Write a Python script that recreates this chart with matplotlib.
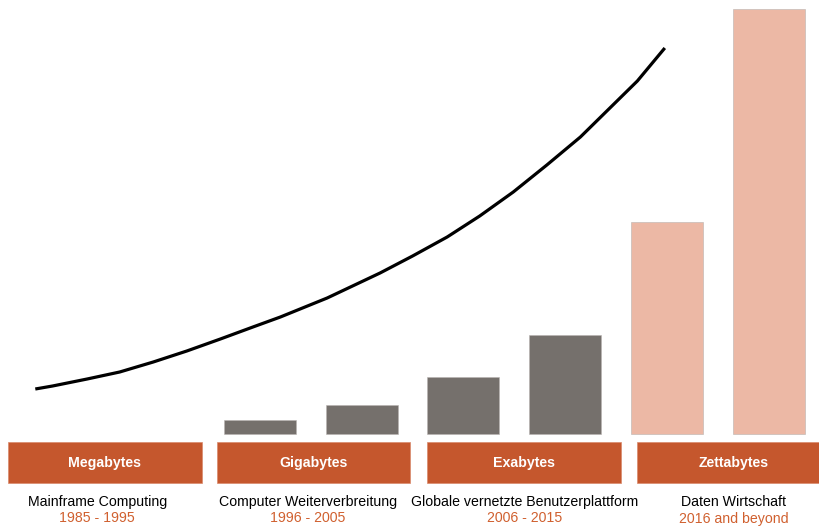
import numpy as np
import matplotlib.pyplot as plt
from matplotlib.patches import Rectangle

plt.rcParams['font.family'] = ['Liberation Sans', 'DejaVu Sans']

# Datenvolumen je Periode (relative Einheiten)
werte = [1.4, 2.9, 5.7, 9.9, 21.2, 42.5]
farben = ['#75706c', '#75706c', '#75706c', '#75706c', '#ecb8a5', '#ecb8a5']

# Trendkurve
kurve_x = [-2.21, -2.04, -1.70, -1.38, -1.05, -0.72, -0.39, -0.07, 0.20, 0.66,
           1.18, 1.50, 1.84, 2.16, 2.49, 2.82, 3.15, 3.37, 3.71, 3.98]
kurve_y = [4.5, 4.8, 5.5, 6.2, 7.2, 8.3, 9.5, 10.7, 11.7, 13.6,
           16.1, 17.8, 19.7, 21.8, 24.2, 26.9, 29.7, 31.9, 35.3, 38.6]

einheiten = ['Megabytes', 'Gigabytes', 'Exabytes', 'Zettabytes']
aeras = ['Mainframe Computing', 'Computer Weiterverbreitung',
         'Globale vernetzte Benutzerplattform', 'Daten Wirtschaft']
jahre = ['1985 - 1995', '1996 - 2005', '2006 - 2015', '2016 and beyond']

orange = '#c5572d'

fig = plt.figure(figsize=(8.2, 5.29), dpi=100)
ax = fig.add_axes([0, 0, 1, 1])
ax.set_xlim(-2.557, 5.506)
ax.set_ylim(-9.5, 43.4)
ax.axis('off')

x = np.arange(len(werte))
ax.bar(x, werte, width=0.708, color=farben, edgecolor='#b8b3b0', linewidth=0.4)

ax.plot(kurve_x, kurve_y, color='black', lw=2.3, solid_capstyle='butt',
        solid_joinstyle='round')

# Kaestchen unten mit Einheiten
box_mitte = [-1.525, 0.525, 2.595, 4.66]
text_mitte = [-1.60, 0.47, 2.60, 4.66]
for i in range(4):
    ax.add_patch(Rectangle((box_mitte[i] - 0.95, -4.9), 1.9, 4.1,
                           facecolor=orange, edgecolor='#d98a6c', lw=0.5))
    ax.text(box_mitte[i], -2.9, einheiten[i], color='white', fontsize=10.2,
            fontweight='bold', ha='center', va='center')
    ax.text(text_mitte[i], -6.8, aeras[i], color='black', fontsize=10.2,
            ha='center', va='center')
    ax.text(text_mitte[i], -8.45, jahre[i], color='#d0602f', fontsize=10.2,
            ha='center', va='center')

plt.savefig('out.png', dpi=100)
